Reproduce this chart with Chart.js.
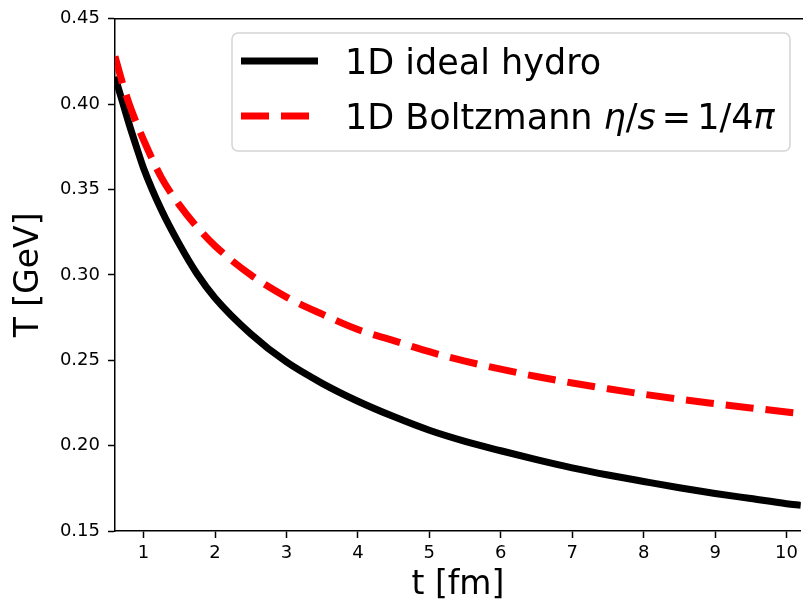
<!DOCTYPE html>
<html>
<head>
<meta charset="utf-8">
<script src="https://cdn.jsdelivr.net/npm/chart.js@4/dist/chart.umd.min.js"></script>
<style>
  html, body { margin: 0; padding: 0; background: #fff; }
  #wrap { width: 803px; height: 605px; }
</style>
</head>
<body>
<div id="wrap"><canvas id="tempChart" width="803" height="605"></canvas></div>
<script>
// time axis samples (fm) and temperatures (GeV)
const timeFm = [0.6, 0.7, 0.8, 0.9, 1.0, 1.25, 1.5, 1.75, 2.0, 2.5, 3.0, 3.5, 4.0, 4.5, 5.0, 5.5, 6.0, 6.5, 7.0, 7.5, 8.0, 8.5, 9.0, 9.5, 10.0, 10.2];
const idealHydro = [0.416, 0.402, 0.388, 0.375, 0.3625, 0.338, 0.318, 0.3005, 0.2865, 0.2655, 0.249, 0.2365, 0.226, 0.217, 0.209, 0.2025, 0.197, 0.1918, 0.187, 0.1828, 0.179, 0.1753, 0.172, 0.169, 0.166, 0.165];
const boltzmann = [0.428, 0.413, 0.400, 0.389, 0.379, 0.357, 0.341, 0.328, 0.317, 0.300, 0.287, 0.277, 0.268, 0.2615, 0.255, 0.2495, 0.2448, 0.2405, 0.2367, 0.2333, 0.2301, 0.2272, 0.2246, 0.2221, 0.2197, 0.2188];

const xTicks = [1, 2, 3, 4, 5, 6, 7, 8, 9, 10];
const yTicks = [0.15, 0.20, 0.25, 0.30, 0.35, 0.40, 0.45];

const FONT = "'DejaVu Sans', sans-serif";

function toPoints(ys) {
  return timeFm.map((t, i) => ({ x: t, y: ys[i] }));
}

// top spine (matplotlib box) - right spine is cropped off in the reference
const topSpine = {
  id: "topSpine",
  afterDraw(chart) {
    const { ctx, chartArea } = chart;
    ctx.save();
    ctx.strokeStyle = "#000";
    ctx.lineWidth = 1.5;
    ctx.beginPath();
    ctx.moveTo(chartArea.left, chartArea.top);
    ctx.lineTo(chart.width, chartArea.top);
    ctx.stroke();
    ctx.restore();
  },
};

// legend with the mixed italic math label
const mathLegend = {
  id: "mathLegend",
  afterDraw(chart) {
    const ctx = chart.ctx;
    const box = { x: 232, y: 33, w: 558, h: 118, r: 6 };
    ctx.save();
    ctx.fillStyle = "rgba(255,255,255,0.85)";
    ctx.strokeStyle = "#d4d4d4";
    ctx.lineWidth = 1.5;
    ctx.beginPath();
    ctx.roundRect(box.x, box.y, box.w, box.h, box.r);
    ctx.fill();
    ctx.stroke();

    const rows = [
      {
        ds: chart.data.datasets[1],
        y: 61,
        parts: [{ t: "1D ideal hydro", it: false }],
      },
      {
        ds: chart.data.datasets[0],
        y: 116,
        parts: [
          { t: "1D Boltzmann ", it: false },
          { t: "η", it: true },
          { t: "/", it: false },
          { t: "s", it: true, after: 6 },
          { t: "=", it: false, after: 6 },
          { t: "1/4", it: false },
          { t: "π", it: true },
        ],
      },
    ];

    rows.forEach((row) => {
      ctx.strokeStyle = row.ds.borderColor;
      ctx.lineWidth = row.ds.borderWidth;
      ctx.setLineDash(row.ds.borderDash || []);
      ctx.lineCap = "butt";
      ctx.beginPath();
      ctx.moveTo(241, row.y);
      ctx.lineTo(318, row.y);
      ctx.stroke();
      ctx.setLineDash([]);

      let x = 345;
      ctx.fillStyle = "#000";
      ctx.textBaseline = "alphabetic";
      row.parts.forEach((p) => {
        ctx.font = (p.it ? "oblique " : "") + "35px " + FONT;
        ctx.fillText(p.t, x, row.y + 12.5);
        x += ctx.measureText(p.t).width + (p.after || 0);
      });
    });
    ctx.restore();
  },
};

const ctx = document.getElementById("tempChart").getContext("2d");

const config = {
  type: "line",
  data: {
    datasets: [
      {
        label: "1D Boltzmann η/s = 1/4π",
        data: toPoints(boltzmann),
        borderColor: "#ff0000",
        borderWidth: 7,
        borderDash: [28, 12],
        pointRadius: 0,
        cubicInterpolationMode: "monotone",
        order: 0,
      },
      {
        label: "1D ideal hydro",
        data: toPoints(idealHydro),
        borderColor: "#000000",
        borderWidth: 7,
        pointRadius: 0,
        cubicInterpolationMode: "monotone",
        order: 1,
      },
    ],
  },
  options: {
    responsive: false,
    animation: false,
    layout: { padding: { top: 16, right: 0, left: 0, bottom: 0 } },
    plugins: {
      legend: { display: false },
      tooltip: { enabled: false },
    },
    scales: {
      x: {
        type: "linear",
        min: 0.6,
        max: 10.2,
        afterFit: (scale) => { scale.height = 74; },
        afterBuildTicks: (scale) => {
          scale.ticks = xTicks.map((v) => ({ value: v }));
        },
        grid: {
          drawOnChartArea: false,
          drawTicks: true,
          tickLength: 7,
          tickWidth: 1.5,
          tickColor: "#000",
        },
        border: { display: true, color: "#000", width: 1.5 },
        ticks: {
          color: "#000",
          padding: 5,
          font: { family: FONT, size: 18 },
          callback: (v) => String(v),
        },
        title: {
          display: true,
          text: "t [fm]",
          color: "#000",
          font: { family: FONT, size: 33 },
          padding: { top: 0, bottom: 0 },
        },
      },
      y: {
        min: 0.15,
        max: 0.45,
        afterFit: (scale) => { scale.width = 115; },
        afterBuildTicks: (scale) => {
          scale.ticks = yTicks.map((v) => ({ value: v }));
        },
        grid: {
          drawOnChartArea: false,
          drawTicks: true,
          tickLength: 7,
          tickWidth: 1.5,
          tickColor: "#000",
        },
        border: { display: true, color: "#000", width: 1.5 },
        ticks: {
          color: "#000",
          padding: 8,
          font: { family: FONT, size: 18 },
          callback: (v) => Number(v).toFixed(2),
        },
        title: {
          display: true,
          text: "T [GeV]",
          color: "#000",
          font: { family: FONT, size: 33 },
          padding: { top: 10, bottom: 0 },
        },
      },
    },
  },
  plugins: [topSpine, mathLegend],
};

const tempChart = new Chart(ctx, config);
</script>
</body>
</html>
